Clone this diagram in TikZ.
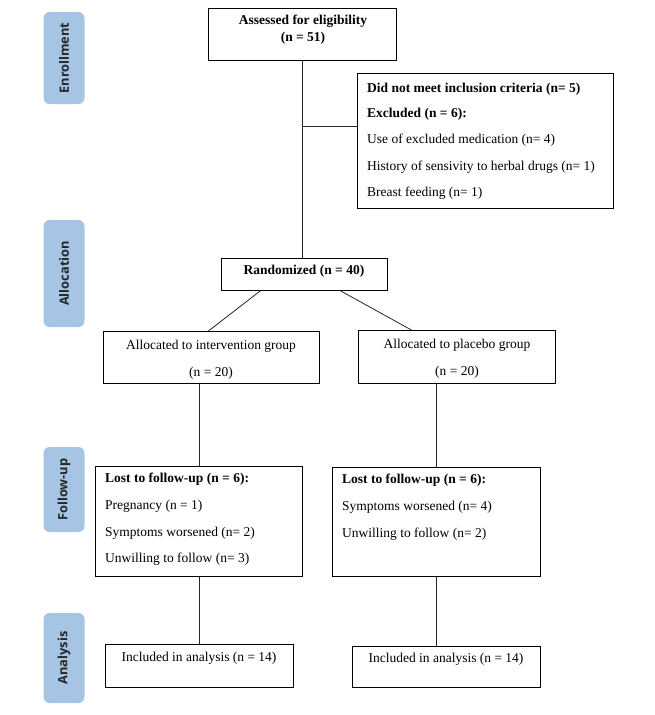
\documentclass[tikz,border=0pt]{standalone}
\usepackage{fontspec}
\setmainfont{Liberation Serif}
\newfontfamily\labelfont{Open Sans}
\begin{document}
\begin{tikzpicture}[x=1pt,y=-1pt,
  box/.style={draw=black,line width=0.8pt,inner sep=0pt,anchor=north west},
  txt/.style={inner sep=0pt,font=\fontsize{13.5}{15}\selectfont},
  ltxt/.style={txt,anchor=west},
  side/.style={fill=sidebl,rounded corners=6pt,inner sep=0pt,minimum width=41pt},
  sidetxt/.style={rotate=90,inner sep=0pt,text=black!85,font=\labelfont\bfseries\fontsize{12.8}{14}\selectfont},
  link/.style={draw=black!85,line width=0.8pt}]
\definecolor{sidebl}{RGB}{166,197,229}
\useasboundingbox (0,0) rectangle (654,715);
% side labels
\node[side,minimum height=92pt] (sEnr) at (64,58) {};
\node[sidetxt] (tEnr) at (64,58) {Enrollment};
\node[side,minimum height=107pt] (sAll) at (64,273.5) {};
\node[sidetxt] (tAll) at (64,273.5) {Allocation};
\node[side,minimum height=85pt] (sFol) at (64,489.5) {};
\node[sidetxt] (tFol) at (64,489.5) {Follow-up};
\node[side,minimum height=90pt] (sAna) at (64,658) {};
\node[sidetxt] (tAna) at (64,658) {Analysis};
% boxes
\node[box,minimum width=188pt,minimum height=52pt] (top) at (208,8) {};
\node[box,minimum width=256pt,minimum height=135pt] (excl) at (357,73) {};
\node[box,minimum width=166pt,minimum height=32pt] (rand) at (221,258) {};
\node[box,minimum width=216pt,minimum height=52pt] (allocL) at (103,331) {};
\node[box,minimum width=197pt,minimum height=53pt] (allocR) at (358,330) {};
\node[box,minimum width=207pt,minimum height=110pt] (fuL) at (95,466) {};
\node[box,minimum width=208pt,minimum height=109pt] (fuR) at (332,467) {};
\node[box,minimum width=188pt,minimum height=43pt] (anaL) at (105,644) {};
\node[box,minimum width=188pt,minimum height=41pt] (anaR) at (352,646) {};
% texts
\node[txt] (t1) at (303,21) {\textbf{Assessed for eligibility}};
\node[txt] (t2) at (303,38) {\textbf{(n = 51)}};
\node[ltxt] (e1) at (367,89) {\textbf{Did not meet inclusion criteria (n= 5)}};
\node[ltxt] (e2) at (367,114) {\textbf{Excluded (n = 6):}};
\node[ltxt] (e3) at (367,140) {Use of excluded medication (n= 4)};
\node[ltxt] (e4) at (367,167) {History of sensivity to herbal drugs (n= 1)};
\node[ltxt] (e5) at (367,193) {Breast feeding (n= 1)};
\node[txt] (r1) at (304,271) {\textbf{Randomized (n = 40)}};
\node[txt] (aL1) at (211,346) {Allocated to intervention group};
\node[txt] (aL2) at (211,373) {(n = 20)};
\node[txt] (aR1) at (457,345) {Allocated to placebo group};
\node[txt] (aR2) at (457,372) {(n = 20)};
\node[ltxt] (fL1) at (105,479) {\textbf{Lost to follow-up (n = 6):}};
\node[ltxt] (fL2) at (105,506) {Pregnancy (n = 1)};
\node[ltxt] (fL3) at (105,533) {Symptoms worsened (n= 2)};
\node[ltxt] (fL4) at (105,559) {Unwilling to follow (n= 3)};
\node[ltxt] (fR1) at (342,480) {\textbf{Lost to follow-up (n = 6):}};
\node[ltxt] (fR2) at (342,507) {Symptoms worsened (n= 4)};
\node[ltxt] (fR3) at (342,534) {Unwilling to follow (n= 2)};
\node[txt] (nL) at (199,658) {Included in analysis (n = 14)};
\node[txt] (nR) at (446,659) {Included in analysis (n = 14)};
% connectors
\coordinate (br) at (302,126);
\path[link] (top.south) -- (top.south |- rand.north);
\path[link] (top.south |- br) -- (excl.west |- br);
\path[link] ([xshift=-44pt]rand.south) -- ([xshift=-3pt]allocL.north);
\path[link] ([xshift=36pt]rand.south) -- ([xshift=-45.5pt]allocR.north);
\path[link] (fuL.north |- allocL.south) -- (fuL.north);
\path[link] (fuR.north |- allocR.south) -- (fuR.north);
\path[link] (fuL.south) -- (fuL.south |- anaL.north);
\path[link] (fuR.south) -- (fuR.south |- anaR.north);
\end{tikzpicture}
\end{document}
